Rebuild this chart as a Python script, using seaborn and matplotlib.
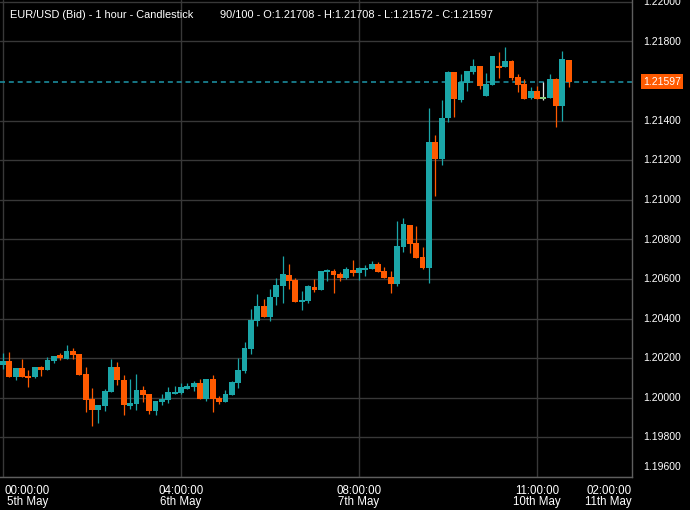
import numpy as np
import pandas as pd
import matplotlib
matplotlib.use("Agg")
import matplotlib.pyplot as plt
import seaborn as sns

# hourly EUR/USD bid candles
opens = [
    1.20168, 1.20188, 1.20104, 1.20149, 1.20109, 1.20104, 1.20158, 1.20139, 1.20188, 1.20218,
    1.20198, 1.20238, 1.20223, 1.20119, 1.19995, 1.19936, 1.19960, 1.20030, 1.20158, 1.20089,
    1.19960, 1.19970, 1.20040, 1.20020, 1.19931, 1.19980, 1.19990, 1.20020, 1.20025, 1.20045,
    1.20054, 1.20074, 1.19995, 1.20094, 1.20000, 1.19980, 1.20015, 1.20074, 1.20134, 1.20248,
    1.20386, 1.20465, 1.20406, 1.20510, 1.20564, 1.20619, 1.20594, 1.20485, 1.20490, 1.20559,
    1.20545, 1.20634, 1.20639, 1.20624, 1.20604, 1.20648, 1.20629, 1.20648, 1.20653, 1.20678,
    1.20639, 1.20609, 1.20574, 1.20762, 1.20871, 1.20782, 1.20713, 1.20658, 1.21292, 1.21208,
    1.21411, 1.21648, 1.21505, 1.21589, 1.21648, 1.21678, 1.21525, 1.21579, 1.21678, 1.21673,
    1.21703, 1.21619, 1.21584, 1.21515, 1.21549, 1.21510, 1.21515, 1.21609, 1.21475, 1.21708,
]
highs = [
    1.20228, 1.20233, 1.20153, 1.20198, 1.20139, 1.20158, 1.20163, 1.20208, 1.20213, 1.20228,
    1.20267, 1.20252, 1.20223, 1.20158, 1.20050, 1.19965, 1.20045, 1.20198, 1.20183, 1.20114,
    1.20094, 1.20119, 1.20059, 1.20020, 1.19985, 1.20020, 1.20054, 1.20059, 1.20074, 1.20074,
    1.20084, 1.20094, 1.20094, 1.20114, 1.20010, 1.20040, 1.20084, 1.20203, 1.20282, 1.20446,
    1.20525, 1.20500, 1.20549, 1.20604, 1.20718, 1.20678, 1.20604, 1.20540, 1.20569, 1.20599,
    1.20639, 1.20653, 1.20653, 1.20634, 1.20663, 1.20698, 1.20663, 1.20673, 1.20693, 1.20688,
    1.20663, 1.20639, 1.20891, 1.20906, 1.20871, 1.20866, 1.20762, 1.21465, 1.21327, 1.21505,
    1.21653, 1.21648, 1.21634, 1.21653, 1.21713, 1.21678, 1.21638, 1.21728, 1.21747, 1.21772,
    1.21708, 1.21634, 1.21609, 1.21569, 1.21574, 1.21594, 1.21634, 1.21614, 1.21752, 1.21708,
]
lows = [
    1.20144, 1.20104, 1.20089, 1.20104, 1.20054, 1.20099, 1.20109, 1.20139, 1.20178, 1.20193,
    1.20198, 1.20198, 1.20114, 1.19926, 1.19856, 1.19871, 1.19931, 1.20030, 1.20064, 1.19911,
    1.19941, 1.19936, 1.19980, 1.19916, 1.19911, 1.19965, 1.19975, 1.20020, 1.20020, 1.20045,
    1.20035, 1.19995, 1.19985, 1.19926, 1.19970, 1.19980, 1.20015, 1.20050, 1.20124, 1.20223,
    1.20361, 1.20406, 1.20386, 1.20470, 1.20480, 1.20549, 1.20485, 1.20441, 1.20480, 1.20535,
    1.20545, 1.20589, 1.20530, 1.20589, 1.20599, 1.20614, 1.20594, 1.20614, 1.20653, 1.20634,
    1.20604, 1.20530, 1.20564, 1.20738, 1.20733, 1.20708, 1.20653, 1.20579, 1.21020, 1.21178,
    1.21391, 1.21416, 1.21495, 1.21549, 1.21634, 1.21559, 1.21525, 1.21579, 1.21614, 1.21673,
    1.21604, 1.21544, 1.21510, 1.21510, 1.21510, 1.21505, 1.21515, 1.21366, 1.21396, 1.21572,
]
closes = [
    1.20188, 1.20104, 1.20149, 1.20104, 1.20099, 1.20158, 1.20139, 1.20193, 1.20213, 1.20203,
    1.20238, 1.20218, 1.20114, 1.19990, 1.19936, 1.19965, 1.20035, 1.20158, 1.20089, 1.19965,
    1.19975, 1.20040, 1.20015, 1.19931, 1.19985, 1.19995, 1.20030, 1.20030, 1.20054, 1.20059,
    1.20074, 1.19995, 1.20094, 1.19995, 1.19980, 1.20020, 1.20079, 1.20139, 1.20252, 1.20391,
    1.20465, 1.20406, 1.20510, 1.20569, 1.20624, 1.20589, 1.20485, 1.20495, 1.20564, 1.20545,
    1.20639, 1.20644, 1.20619, 1.20604, 1.20653, 1.20629, 1.20658, 1.20658, 1.20678, 1.20634,
    1.20604, 1.20574, 1.20767, 1.20876, 1.20777, 1.20708, 1.20658, 1.21292, 1.21208, 1.21411,
    1.21648, 1.21510, 1.21594, 1.21653, 1.21678, 1.21574, 1.21584, 1.21728, 1.21668, 1.21703,
    1.21614, 1.21579, 1.21510, 1.21549, 1.21510, 1.21520, 1.21609, 1.21475, 1.21713, 1.21597,
]

x_tick_pos = [0, 28, 56, 84, 99]
x_tick_labels = ["00:00:00\n5th May", "04:00:00\n6th May", "08:00:00\n7th May",
                 "11:00:00\n10th May", "02:00:00\n11th May"]
y_tick_values = [1.196, 1.198, 1.200, 1.202, 1.204, 1.206, 1.208, 1.210,
                 1.212, 1.214, 1.216, 1.218, 1.220]
last_price = 1.21597
hover_idx = 85
title_left = "EUR/USD (Bid) - 1 hour - Candlestick"
title_right = "90/100 - O:1.21708 - H:1.21708 - L:1.21572 - C:1.21597"

UP = "#1ba6a8"
DOWN = "#ff5a00"
GRID = "#383838"
BORDER = "#5e5e5e"

df = pd.DataFrame({"open": opens, "high": highs, "low": lows, "close": closes})
df["idx"] = np.arange(len(df))
df["color"] = np.where(df["close"] >= df["open"], UP, DOWN)
df["wick"] = df["color"]
df.loc[hover_idx, "color"] = "#86c97c"
df.loc[hover_idx, "wick"] = "#e8e8e8"

sns.set_theme(style="dark", rc={"axes.facecolor": "black", "figure.facecolor": "black"})
plt.rcParams["font.family"] = ["Liberation Sans", "DejaVu Sans"]

W, H = 690, 510
fig = plt.figure(figsize=(W / 100, H / 100 + 0.001), dpi=100, facecolor="black")
ax_w, ax_h = 632, 477
ax = fig.add_axes([0, (H - ax_h) / H, ax_w / W, ax_h / H])
ax.set_facecolor("black")

# axis ranges (price per pixel ~0.0000495, candle step ~6.36 px)
ymin, ymax = 1.196485, 1.220097
xmin, xmax = -0.47, 98.95
ax.set_xlim(xmin, xmax)
ax.set_ylim(ymin, ymax)

# grid
grid_y = [v for v in y_tick_values if abs(v - last_price) > 0.0003]
ax.set_yticks(grid_y)
ax.set_xticks(x_tick_pos[:4])
ax.tick_params(length=0, labelbottom=False, labelleft=False, labelright=False)
ax.grid(True, color=GRID, lw=1.0)
ax.set_axisbelow(True)
for side in ["left", "top"]:
    ax.spines[side].set_visible(False)
for side in ["right", "bottom"]:
    ax.spines[side].set_visible(True)
    ax.spines[side].set_color(BORDER)
    ax.spines[side].set_linewidth(1.0)

# candles
body_low = df[["open", "close"]].min(axis=1)
body_h = (df["close"] - df["open"]).abs().clip(lower=0.00004)
ax.vlines(df["idx"], df["low"], df["high"], colors=df["wick"], lw=0.9, zorder=3)
ax.bar(df["idx"], body_h, bottom=body_low, width=0.92, color=df["color"],
       linewidth=0, zorder=4)

# last price line
ax.axhline(last_price, color="#1b8b9b", lw=1.2, dashes=(3, 2.3), zorder=2)

# right price labels
ytr = ax.get_yaxis_transform()
for v in y_tick_values:
    if abs(v - last_price) <= 0.0003:
        continue
    yy = max(v, ymin)
    ax.text(1 + 11 / ax_w, yy, f"{v:.5f}", transform=ytr, ha="left", va="center",
            color="white", fontsize=7.5, clip_on=False)
ax.text(1 + 11 / ax_w, last_price, f"{last_price:.5f}", transform=ytr, ha="left",
        va="center", color="white", fontsize=7.5, clip_on=False,
        bbox=dict(boxstyle="square,pad=0.22", fc=DOWN, ec="none"))

# time labels, kept inside the plot width like the original
xtr = ax.get_xaxis_transform()
lab_y = -8 / ax_h
for pos, lab in zip(x_tick_pos, x_tick_labels):
    if pos <= xmin + 2.5:
        x, ha = xmin + 5 / 6.36, "left"
    elif pos >= xmax - 2.5:
        x, ha = xmax, "right"
    else:
        x, ha = pos, "center"
    ax.text(x, lab_y, lab, transform=xtr, ha=ha, va="top", color="white",
            fontsize=8.3, linespacing=0.88, multialignment="center", clip_on=False)

# header
fig.text(10 / W, 1 - 14.5 / H, title_left, color="white", fontsize=7.9, va="center")
fig.text(220 / W, 1 - 14.5 / H, title_right, color="white", fontsize=7.9, va="center")

fig.savefig("out.png", dpi=100, facecolor="black")
